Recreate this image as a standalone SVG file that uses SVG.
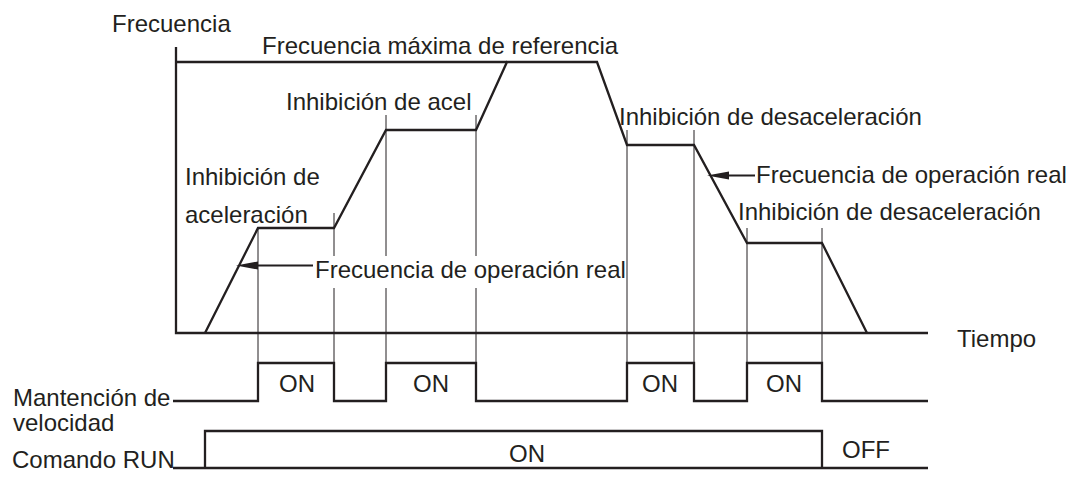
<svg xmlns="http://www.w3.org/2000/svg" width="1072" height="478" viewBox="0 0 1072 478">
<defs>
<style>
text{font-family:"Liberation Sans",Arial,sans-serif;font-size:24px;fill:#231f20}
.thick{fill:none;stroke:#231f20;stroke-width:2.3;stroke-linejoin:miter}
.thin{fill:none;stroke:#231f20;stroke-width:1}
.arr{fill:none;stroke:#231f20;stroke-width:2}
.head{fill:#231f20;stroke:none}
</style>
</defs>
<rect width="1072" height="478" fill="#fff"/>
<g id="axes">
<path class="thick" d="M176,47 V333 H928"/>
</g>
<g id="curve">
<path class="thick" d="M176,62 H507"/>
<path class="thick" d="M205,333 L258,228 H334 L386,130 H476 L507,62 H597 L627,145 H694 L747,243 H822 L867,333"/>
</g>
<g id="connectors">
<path class="thin" d="M258,228 V363"/>
<path class="thin" d="M334,213 V256 M334,288 V363"/>
<path class="thin" d="M386,115 V256 M386,288 V363"/>
<path class="thin" d="M476,115 V256 M476,288 V363"/>
<path class="thin" d="M627,130 V363"/>
<path class="thin" d="M694,130 V363"/>
<path class="thin" d="M747,228 V363"/>
<path class="thin" d="M822,228 V363"/>
<path class="arr" d="M313,265.5 H252"/>
<path class="head" d="M236,265.5 L258,261.5 L258,269.5 Z"/>
<path class="arr" d="M755,175.5 H722"/>
<path class="head" d="M707,175.5 L729,171.5 L729,179.5 Z"/>
</g>
<g id="labels">
<text x="112" y="32">Frecuencia</text>
<text x="262" y="54">Frecuencia máxima de referencia</text>
<text x="286" y="110">Inhibición de acel</text>
<text x="619" y="125">Inhibición de desaceleración</text>
<text x="756" y="183">Frecuencia de operación real</text>
<text x="738" y="220">Inhibición de desaceleración</text>
<text x="185" y="185">Inhibición de</text>
<text x="185" y="223">aceleración</text>
<text x="315" y="278">Frecuencia de operación real</text>
<text x="957" y="347">Tiempo</text>
</g>
<g id="speed-hold">
<text x="13" y="406">Mantención de</text>
<text x="13" y="431">velocidad</text>
<path class="thick" d="M173,401 H258 V363 H334 V401 H386 V363 H476 V401 H627 V363 H694 V401 H747 V363 H822 V401 H928"/>
<text x="297" y="392" text-anchor="middle">ON</text>
<text x="431" y="392" text-anchor="middle">ON</text>
<text x="660" y="392" text-anchor="middle">ON</text>
<text x="784" y="392" text-anchor="middle">ON</text>
</g>
<g id="run-command">
<text x="12" y="468">Comando RUN</text>
<path class="thick" d="M173,468 H205 V431 H822 V468 M173,468 H928"/>
<text x="527" y="462" text-anchor="middle">ON</text>
<text x="842" y="458">OFF</text>
</g>
</svg>
